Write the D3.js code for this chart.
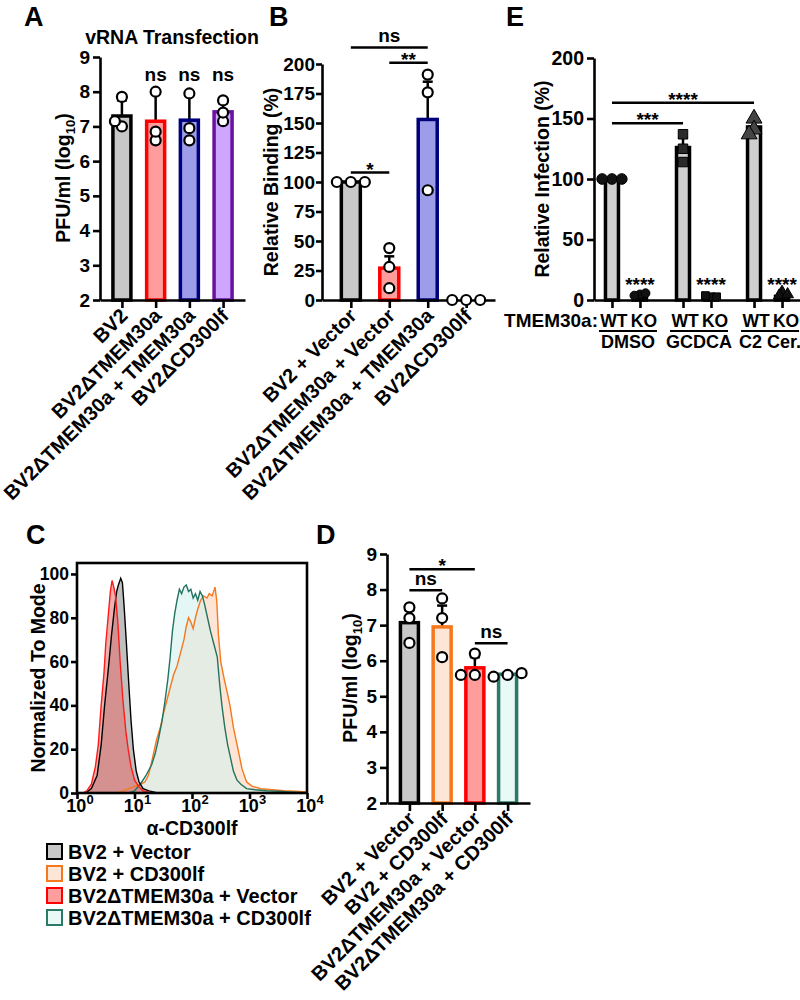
<!DOCTYPE html>
<html>
<head>
<meta charset="utf-8">
<script src="https://cdn.jsdelivr.net/npm/d3@7"></script>
<style>
  body { margin: 0; background: #fff; }
  svg { display: block; }
</style>
</head>
<body>
<svg id="fig" width="800" height="1000"></svg>
<script>
// ---- panel A: vRNA transfection
const aCats = ["BV2", "BV2ΔTMEM30a", "BV2ΔTMEM30a + TMEM30a", "BV2ΔCD300lf"];
const aMeans = [7.3, 7.15, 7.18, 7.42];
const aErr = [0.45, 0.8, 0.75, 0.25];
const aPoints = [[7.85, 7.0, 7.15], [8.0, 6.6, 6.85], [7.95, 6.95, 6.6], [7.75, 7.15, 7.4]];
const aSig = ["", "ns", "ns", "ns"];
const aTicks = [2, 3, 4, 5, 6, 7, 8, 9];

// ---- panel B: relative binding
const bCats = ["BV2 + Vector", "BV2ΔTMEM30a + Vector", "BV2ΔTMEM30a + TMEM30a", "BV2ΔCD300lf"];
const bMeans = [100, 27, 153, 0];
const bErr = [0, 10, 32, 0];
const bPoints = [[100, 100, 100], [44, 28, 10], [191, 176, 93], [0, 0, 0]];
const bBrackets = [[0, 1, 108, "*"], [1, 2, 201, "**"], [0, 2, 214, "ns"]];
const bTicks = [0, 25, 50, 75, 100, 125, 150, 175, 200];

// ---- panel D: PFU after CD300lf rescue
const dCats = ["BV2 + Vector", "BV2 + CD300lf", "BV2ΔTMEM30a + Vector", "BV2ΔTMEM30a + CD300lf"];
const dMeans = [7.07, 6.95, 5.8, 5.62];
const dErr = [0.35, 0.6, 0.3, 0.05];
const dPoints = [[7.5, 7.2, 6.5], [7.75, 7.2, 6.1], [6.2, 5.6, 5.6], [5.6, 5.55, 5.65]];
const dBrackets = [[0, 2, 8.57, "*"], [0, 1, 7.98, "ns"], [2, 3, 6.49, "ns"]];
const dTicks = [2, 3, 4, 5, 6, 7, 8, 9];

// ---- panel E: relative infection
const eGroups = ["DMSO", "GCDCA", "C2 Cer."];
const eGeno = ["WT", "KO"];
const eMeansWT = [100, 126, 143];
const eMeansKO = [2, 1.5, 3];
const eErrWT = [0, 8, 5];
const ePointsWT = [[100, 100, 100], [137, 125, 114], [150, 141, 137]];
const ePointsKO = [[3, 2, 4], [1, 2, 1], [5, 2, 3]];
const eBrackets = [[0, 1, 146, "***"], [0, 2, 163, "****"]];
const eTicks = [0, 50, 100, 150, 200];

// ---- panel C: flow histograms (log10 fluorescence, % of mode)
const histBV2Vector = [[0.15,0],[0.25,2],[0.35,8],[0.42,22],[0.48,40],[0.55,58],[0.6,72],[0.65,84],[0.69,92],[0.72,95],[0.76,98],[0.79,96],[0.82,85],[0.86,68],[0.9,50],[0.94,33],[0.98,20],[1.03,10],[1.08,5],[1.15,2],[1.25,1],[1.4,0]];
const histKOVector = [[0.1,0],[0.17,1],[0.25,4],[0.32,12],[0.37,22],[0.42,40],[0.47,55],[0.5,68],[0.54,80],[0.58,92],[0.61,97],[0.64,94],[0.67,90],[0.71,78],[0.75,60],[0.8,42],[0.85,28],[0.89,20],[0.94,12],[1.0,6],[1.07,3],[1.15,1],[1.3,0]];
const histKOCD300lf = [[0.9,0],[1.0,1],[1.1,4],[1.2,8],[1.3,13],[1.36,18],[1.42,25],[1.48,33],[1.53,42],[1.58,52],[1.62,62],[1.66,74],[1.7,82],[1.74,88],[1.78,93],[1.82,91],[1.86,94],[1.9,95],[1.94,92],[1.98,93],[2.02,89],[2.06,91],[2.1,88],[2.14,92],[2.18,90],[2.22,86],[2.27,80],[2.32,74],[2.38,68],[2.44,62],[2.48,50],[2.52,40],[2.57,30],[2.62,22],[2.67,16],[2.72,10],[2.78,6],[2.85,4],[2.95,2],[3.1,1.5],[3.3,1],[3.5,0.8],[3.7,0.5],[4,0]];
const histBV2CD300lf = [[0.7,0],[0.8,1],[0.9,2],[1.0,3],[1.1,4],[1.18,5],[1.24,8],[1.28,12],[1.33,18],[1.38,24],[1.45,30],[1.5,36],[1.56,42],[1.62,48],[1.68,54],[1.74,58],[1.8,64],[1.86,70],[1.9,76],[1.94,80],[1.98,78],[2.02,75],[2.06,80],[2.1,84],[2.15,88],[2.2,90],[2.26,89],[2.3,91],[2.35,90],[2.4,94],[2.43,88],[2.46,72],[2.5,60],[2.56,52],[2.62,45],[2.66,40],[2.72,30],[2.8,20],[2.87,11],[2.95,5],[3.05,3],[3.2,2],[3.4,1.5],[3.6,1],[3.8,0.8],[4,0.5]];
const cTicksY = [0, 20, 40, 60, 80, 100];
const cTicksX = [0, 1, 2, 3, 4];
const legendLabels = ["BV2 + Vector", "BV2 + CD300lf", "BV2ΔTMEM30a + Vector", "BV2ΔTMEM30a + CD300lf"];

const FONT = '"Liberation Sans", Arial, Helvetica, sans-serif';
const gray = { fill: "#c8c8c8", stroke: "#000000" };
const red = { fill: "#ff9c9c", stroke: "#ff0000" };
const blue = { fill: "#9c9ce8", stroke: "#00007a" };
const purple = { fill: "#cfa6ff", stroke: "#6a11a0" };
const orange = { fill: "#fde6d6", stroke: "#f5781e" };
const teal = { fill: "#e9f9f6", stroke: "#2b7a68" };

const svg = d3.select("#fig");

function styleAxis(g, size) {
  g.select(".domain").attr("stroke", "#000").attr("stroke-width", 2.6);
  g.selectAll(".tick line").attr("stroke", "#000").attr("stroke-width", 2.6);
  g.selectAll(".tick text")
    .attr("font-family", FONT)
    .attr("font-weight", "bold")
    .attr("font-size", size || 19)
    .attr("fill", "#000");
}

function txt(g, x, y, s, size, anchor) {
  return g.append("text")
    .attr("x", x).attr("y", y)
    .attr("font-family", FONT).attr("font-weight", "bold")
    .attr("font-size", size).attr("text-anchor", anchor || "middle")
    .text(s);
}

// spread points that would sit on top of each other
function dodge(vals, y, minDist) {
  const placed = [];
  return vals.map((v) => {
    const py = y(v);
    for (const dx of [0, -7, 7, -14, 14]) {
      if (placed.every((p) => Math.hypot(p[0] - dx, p[1] - py) >= minDist)) {
        placed.push([dx, py]);
        return dx;
      }
    }
    placed.push([0, py]);
    return 0;
  });
}

function yTitle(g, x, y, main, sub) {
  const t = g.append("text")
    .attr("transform", `translate(${x},${y}) rotate(-90)`)
    .attr("font-family", FONT).attr("font-weight", "bold")
    .attr("font-size", 19.5).attr("text-anchor", "middle");
  t.append("tspan").text(main);
  if (sub) {
    t.append("tspan").attr("font-size", 13).attr("dy", 5).text(sub);
    t.append("tspan").attr("dy", -5).text(")");
  }
}

function barPanel(o) {
  const g = svg.append("g");
  const y = d3.scaleLinear().domain(o.yDomain).range([o.yBottom, o.yTop]);
  const x = d3.scalePoint().domain(o.cats).range([o.xLeft, o.xRight]).padding(o.pad);

  g.append("g")
    .attr("transform", `translate(${o.xLeft},0)`)
    .call(d3.axisLeft(y).tickValues(o.ticks).tickFormat(d3.format("d"))
      .tickSize(o.tick || 7).tickSizeOuter(0).tickPadding(o.tickPad || 3))
    .call(styleAxis);

  o.cats.forEach((c, i) => {
    const m = o.means[i];
    const col = o.colors[i];
    if (o.err[i] > 0) {
      g.append("line")
        .attr("x1", x(c)).attr("x2", x(c))
        .attr("y1", y(m)).attr("y2", y(m + o.err[i]))
        .attr("stroke", "#000").attr("stroke-width", 2.5);
      g.append("line")
        .attr("x1", x(c) - 5).attr("x2", x(c) + 5)
        .attr("y1", y(m + o.err[i])).attr("y2", y(m + o.err[i]))
        .attr("stroke", "#000").attr("stroke-width", 2.5);
    }
    if (m > o.yDomain[0]) {
      g.append("rect")
        .attr("x", x(c) - o.bw / 2).attr("width", o.bw)
        .attr("y", y(m)).attr("height", y(o.yDomain[0]) - y(m))
        .attr("fill", col.fill).attr("stroke", col.stroke).attr("stroke-width", 3.5);
    }
  });

  g.append("g")
    .attr("transform", `translate(0,${o.yBottom})`)
    .call(d3.axisBottom(x).tickSize(8).tickSizeOuter(0).tickFormat(""))
    .call(styleAxis);

  o.cats.forEach((c, i) => {
    const dx = dodge(o.points[i], y, 7.5);
    o.points[i].forEach((v, j) => {
      g.append("circle")
        .attr("cx", x(c) + dx[j]).attr("cy", y(v)).attr("r", 5)
        .attr("fill", "#fff").attr("stroke", "#000").attr("stroke-width", 2.2);
    });
    g.append("text")
      .attr("transform", `translate(${x(c) + 7},${o.yBottom + 17}) rotate(-45)`)
      .attr("font-family", FONT).attr("font-weight", "bold")
      .attr("font-size", 20).attr("text-anchor", "end")
      .text(c);
  });

  (o.brackets || []).forEach((b) => {
    const yy = y(b[2]);
    g.append("line")
      .attr("x1", x(o.cats[b[0]])).attr("x2", x(o.cats[b[1]]))
      .attr("y1", yy).attr("y2", yy)
      .attr("stroke", "#000").attr("stroke-width", 2.5);
    txt(g, (x(o.cats[b[0]]) + x(o.cats[b[1]])) / 2, yy - (b[3] === "ns" ? 5 : -3), b[3], 19);
  });

  (o.sig || []).forEach((s, i) => {
    if (s) txt(g, x(o.cats[i]), y(o.sigAt), s, 19);
  });
  return g;
}

// ---- A
const gA = barPanel({
  cats: aCats, means: aMeans, err: aErr, points: aPoints, ticks: aTicks,
  yDomain: [2, 9], yBottom: 300, yTop: 57, xLeft: 100, xRight: 245, pad: 0.65, bw: 18,
  colors: [gray, red, blue, purple], sig: aSig, sigAt: 8.3
});
txt(gA, 172, 44, "vRNA Transfection", 19.5);
yTitle(gA, 70, 178, "PFU/ml  (log", "10");

// ---- B
const gB = barPanel({
  cats: bCats, means: bMeans, err: bErr, points: bPoints, ticks: bTicks,
  yDomain: [0, 200], yBottom: 300, yTop: 64, xLeft: 322, xRight: 495, pad: 0.75, bw: 19,
  colors: [gray, red, blue, gray], brackets: bBrackets, tick: 6, tickPad: 1
});
yTitle(gB, 278, 182, "Relative Binding (%)");

// ---- D
const gD = barPanel({
  cats: dCats, means: dMeans, err: dErr, points: dPoints, ticks: dTicks,
  yDomain: [2, 9], yBottom: 803, yTop: 554, xLeft: 387, xRight: 530, pad: 0.685, bw: 18,
  colors: [gray, orange, red, teal], brackets: dBrackets
});
yTitle(gD, 357, 678, "PFU/ml  (log", "10");

// ---- E
{
  const g = svg.append("g");
  const y = d3.scaleLinear().domain([0, 200]).range([300, 58]);
  const xg = d3.scalePoint().domain(eGroups).range([594, 800]).padding(0.45);
  const xi = d3.scalePoint().domain(eGeno).range([-14, 14]);
  const bx = (gi, k) => xg(eGroups[gi]) + xi(eGeno[k]);

  g.append("g")
    .attr("transform", "translate(594,0)")
    .call(d3.axisLeft(y).tickValues(eTicks).tickSize(7).tickSizeOuter(0).tickPadding(3))
    .call(styleAxis, 19.5);

  const markers = [d3.symbolCircle, d3.symbolSquare, d3.symbolTriangle];
  const mFill = ["#111", "#2a2a2a", "#444"];

  eGroups.forEach((grp, gi) => {
    const cx = bx(gi, 0);
    if (eErrWT[gi] > 0) {
      const top = y(eMeansWT[gi] + eErrWT[gi]);
      g.append("line").attr("x1", cx).attr("x2", cx).attr("y1", y(eMeansWT[gi])).attr("y2", top)
        .attr("stroke", "#000").attr("stroke-width", 2.5);
      g.append("line").attr("x1", cx - 5).attr("x2", cx + 5).attr("y1", top).attr("y2", top)
        .attr("stroke", "#000").attr("stroke-width", 2.5);
    }
    g.append("rect")
      .attr("x", cx - 6.5).attr("width", 13)
      .attr("y", y(eMeansWT[gi])).attr("height", y(0) - y(eMeansWT[gi]))
      .attr("fill", "#cfcfcf").attr("stroke", "#000").attr("stroke-width", 3.5);
    const kx = bx(gi, 1);
    g.append("rect")
      .attr("x", kx - 6.5).attr("width", 13)
      .attr("y", y(eMeansKO[gi])).attr("height", y(0) - y(eMeansKO[gi]))
      .attr("fill", "#cfcfcf").attr("stroke", "#000").attr("stroke-width", 3.5);
  });

  g.append("g")
    .attr("transform", "translate(0,300)")
    .call(d3.axisBottom(d3.scaleLinear().domain([594, 800]).range([594, 800]))
      .tickValues(eGroups.flatMap((grp, gi) => [bx(gi, 0), bx(gi, 1)]))
      .tickSize(8).tickSizeOuter(0).tickFormat(""))
    .call(styleAxis);

  eGroups.forEach((grp, gi) => {
    const sym = d3.symbol().type(markers[gi]).size(gi === 2 ? 110 : 90);
    const symKO = d3.symbol().type(markers[gi]).size(60);
    const wx = dodge(ePointsWT[gi], y, 7.5);
    ePointsWT[gi].forEach((v, j) => {
      g.append("path")
        .attr("d", sym())
        .attr("transform", `translate(${bx(gi, 0) + wx[j] * 0.7},${y(v)})`)
        .attr("fill", mFill[gi]).attr("stroke", "#000").attr("stroke-width", 1);
    });
    const kxs = dodge(ePointsKO[gi], y, 7.5);
    ePointsKO[gi].forEach((v, j) => {
      g.append("path")
        .attr("d", symKO())
        .attr("transform", `translate(${bx(gi, 1) + kxs[j] * 0.4},${y(v) - 2})`)
        .attr("fill", "#111").attr("stroke", "#000").attr("stroke-width", 1);
    });
    txt(g, bx(gi, 1), y(0) - 9, "****", 19);
    txt(g, bx(gi, 0) + 2, 327, "WT", 17.5);
    txt(g, bx(gi, 1) + 4, 327, "KO", 17.5);
    g.append("line")
      .attr("x1", bx(gi, 0) - 13).attr("x2", bx(gi, 1) + 17)
      .attr("y1", 331).attr("y2", 331)
      .attr("stroke", "#000").attr("stroke-width", 2);
    txt(g, xg(grp) + 2, 348, grp, 18);
  });
  txt(g, 598, 327, "TMEM30a:", 19, "end");

  eBrackets.forEach((b) => {
    const yy = y(b[2]);
    g.append("line").attr("x1", bx(b[0], 0)).attr("x2", bx(b[1], 0))
      .attr("y1", yy).attr("y2", yy).attr("stroke", "#000").attr("stroke-width", 2.5);
    txt(g, (bx(b[0], 0) + bx(b[1], 0)) / 2, yy + 3, b[3], 19);
  });
  yTitle(g, 549, 179, "Relative Infection (%)");
}

// ---- C
{
  const g = svg.append("g");
  const x = d3.scaleLinear().domain([0, 4]).range([77, 307]);
  const y = d3.scaleLinear().domain([0, 105]).range([793, 563]);

  const area = d3.area().x((d) => x(d[0])).y0(y(0)).y1((d) => y(d[1]));
  const line = d3.line().x((d) => x(d[0])).y((d) => y(d[1]));

  const series = [
    [histBV2CD300lf, "#fcd9c2", 0.7, "#f5781e"],
    [histKOCD300lf, "#d4f2ee", 0.6, "#22735f"],
    [histBV2Vector, "#a9a9a9", 0.75, "#000"],
    [histKOVector, "#e86a6a", 0.55, "#ff1a1a"]
  ];
  series.forEach((s) => {
    g.append("path").attr("d", area(s[0])).attr("fill", s[1]).attr("fill-opacity", s[2]);
  });
  series.forEach((s) => {
    g.append("path").attr("d", line(s[0])).attr("fill", "none").attr("stroke", s[3]).attr("stroke-width", 1.4);
  });

  g.append("rect").attr("x", 77).attr("y", 563).attr("width", 230).attr("height", 230)
    .attr("fill", "none").attr("stroke", "#000").attr("stroke-width", 2.6);

  g.append("g").attr("transform", "translate(77,0)")
    .call(d3.axisLeft(y).tickValues(cTicksY).tickSize(6).tickSizeOuter(0).tickPadding(2))
    .call(styleAxis, 17.5)
    .select(".domain").remove();

  const bx = g.append("g").attr("transform", "translate(0,793)")
    .call(d3.axisBottom(x).tickValues(cTicksX).tickSize(6).tickSizeOuter(0).tickFormat(""))
    .call(styleAxis);
  bx.select(".domain").remove();
  cTicksX.forEach((p) => {
    const t = g.append("text")
      .attr("x", x(p) + 3).attr("y", 812)
      .attr("font-family", FONT).attr("font-weight", "bold")
      .attr("font-size", 18).attr("text-anchor", "middle");
    t.append("tspan").text("10");
    t.append("tspan").attr("font-size", 13).attr("dy", -8).text(p);
  });
  txt(g, 192, 835, "α-CD300lf", 19.5);
  yTitle(g, 45, 678, "Normalized To Mode");

  const legCols = [gray, orange, red, teal];
  legendLabels.forEach((l, i) => {
    g.append("rect").attr("x", 47).attr("y", 844 + i * 22).attr("width", 15).attr("height", 15)
      .attr("fill", legCols[i].fill).attr("stroke", legCols[i].stroke).attr("stroke-width", 2);
    txt(g, 68, 859 + i * 22, l, 20, "start");
  });
}

// panel letters
[["A", 24, 26], ["B", 269, 26], ["E", 506, 26], ["C", 26, 544], ["D", 316, 544]].forEach((p) => {
  txt(svg, p[1], p[2], p[0], 27, "start");
});
</script>
</body>
</html>
